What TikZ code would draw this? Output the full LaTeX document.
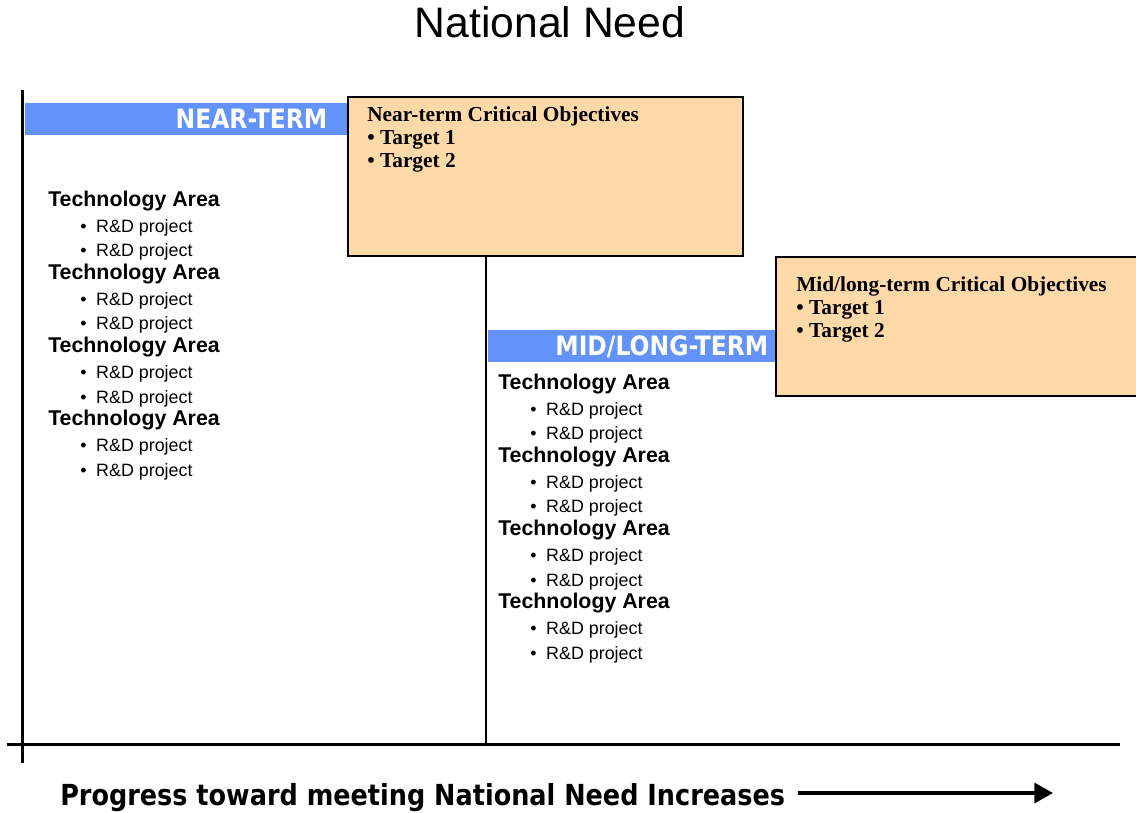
\documentclass[tikz,border=0pt]{standalone}
\usepackage{fontspec}
\setmainfont{Liberation Sans}
\newfontfamily\termfont[FakeStretch=0.88]{DejaVu Sans}
\newfontfamily\objfont{Liberation Serif}
\usetikzlibrary{positioning, arrows.meta}

\definecolor{termblue}{RGB}{99,146,250}
\definecolor{objpeach}{RGB}{255,217,168}

\tikzset{
    termbar/.style={rectangle, fill=termblue, anchor=north west, minimum height=24pt, inner ysep=0pt, text height=14.5pt, text depth=0pt, align=right, text=white, font=\termfont\bfseries\fontsize{20}{20}\selectfont},
    objbox/.style={rectangle, draw, line width=1.5pt, fill=objpeach, anchor=north west},
    objtext/.style={inner sep=0pt, align=left, font=\objfont\bfseries\fontsize{16}{17.25}\selectfont},
    area/.style={inner sep=0pt, text height=12pt, text depth=3pt, font=\bfseries\fontsize{16}{16}\selectfont},
    project/.style={inner sep=0pt, text height=12pt, text depth=3pt, font=\fontsize{13.4}{13.4}\selectfont},
    axis/.style={line width=2.25pt}
}
\newcommand{\rdproject}{\textbullet\hspace{7.3pt}R\&D project}

\begin{document}
\begin{tikzpicture}[x=0.75pt, y=-0.75pt]
        \useasboundingbox (0,0) rectangle (1136,813);

        \node[font=\fontsize{32}{32}\selectfont](title) at (550,22){National Need};

        %Balken
        \node[termbar, minimum width=241.5pt, text width=211.5pt, inner xsep=15pt](nearbar) at (25,103){NEAR-TERM};
        \node[termbar, minimum width=215.25pt, text width=204.75pt, inner xsep=5.25pt](midbar) at (488,330){MID/LONG-TERM};

        %Ziele
        \node[objbox, minimum width=296.25pt, minimum height=119.25pt](nearobj) at (347,96){};
        \node[objtext, below right = 7.5pt and 15pt of nearobj.north west](neartext){Near-term Critical Objectives\\• Target 1\\• Target 2};
        \node[objbox, minimum width=273.75pt, minimum height=104.25pt](midobj) at (775,256){};
        \node[objtext, below right = 15pt and 15.75pt of midobj.north west](midtext){Mid/long-term Critical Objectives\\• Target 1\\• Target 2};

        %Liste links
        \node[area, anchor=base west](ta1) at (48,206.5){Technology Area};
        \node[project, below right = 3.8pt and 24pt of ta1.south west](p1a){\rdproject};
        \node[project, below right = 3.2pt and 0pt of p1a.south west](p1b){\rdproject};
        \node[area, below right = 1.6pt and -24pt of p1b.south west](ta2){Technology Area};
        \node[project, below right = 3.8pt and 24pt of ta2.south west](p2a){\rdproject};
        \node[project, below right = 3.2pt and 0pt of p2a.south west](p2b){\rdproject};
        \node[area, below right = 1.6pt and -24pt of p2b.south west](ta3){Technology Area};
        \node[project, below right = 3.8pt and 24pt of ta3.south west](p3a){\rdproject};
        \node[project, below right = 3.2pt and 0pt of p3a.south west](p3b){\rdproject};
        \node[area, below right = 1.6pt and -24pt of p3b.south west](ta4){Technology Area};
        \node[project, below right = 3.8pt and 24pt of ta4.south west](p4a){\rdproject};
        \node[project, below right = 3.2pt and 0pt of p4a.south west](p4b){\rdproject};

        %Liste rechts
        \node[area, anchor=base west](ta5) at (498,389.5){Technology Area};
        \node[project, below right = 3.8pt and 24pt of ta5.south west](p5a){\rdproject};
        \node[project, below right = 3.2pt and 0pt of p5a.south west](p5b){\rdproject};
        \node[area, below right = 1.6pt and -24pt of p5b.south west](ta6){Technology Area};
        \node[project, below right = 3.8pt and 24pt of ta6.south west](p6a){\rdproject};
        \node[project, below right = 3.2pt and 0pt of p6a.south west](p6b){\rdproject};
        \node[area, below right = 1.6pt and -24pt of p6b.south west](ta7){Technology Area};
        \node[project, below right = 3.8pt and 24pt of ta7.south west](p7a){\rdproject};
        \node[project, below right = 3.2pt and 0pt of p7a.south west](p7b){\rdproject};
        \node[area, below right = 1.6pt and -24pt of p7b.south west](ta8){Technology Area};
        \node[project, below right = 3.8pt and 24pt of ta8.south west](p8a){\rdproject};
        \node[project, below right = 3.2pt and 0pt of p8a.south west](p8b){\rdproject};

        %Achsen
        \coordinate (ytop) at (22,90);
        \coordinate (ybot) at (22,763);
        \coordinate (xleft) at (7,744);
        \coordinate (xright) at (1120,744);
        \coordinate (midfoot) at (486,744);
        \draw[axis] (ytop) -- (ybot);
        \draw[axis] (xleft) -- (xright);
        \draw[line width=1.1pt] (midfoot) -- (midfoot |- nearobj.south);

        %Fortschritt
        \node[anchor=base west, inner sep=0pt, font=\termfont\bfseries\fontsize{21.75}{21.75}\selectfont](progress) at (60,805){Progress toward meeting National Need Increases};
        \coordinate (tail) at (798,793);
        \coordinate (tip) at (1053,793);
        \draw[line width=2.5pt, -{Triangle[length=14pt, width=15pt]}] (tail) -- (tip);

    \end{tikzpicture}
\end{document}
